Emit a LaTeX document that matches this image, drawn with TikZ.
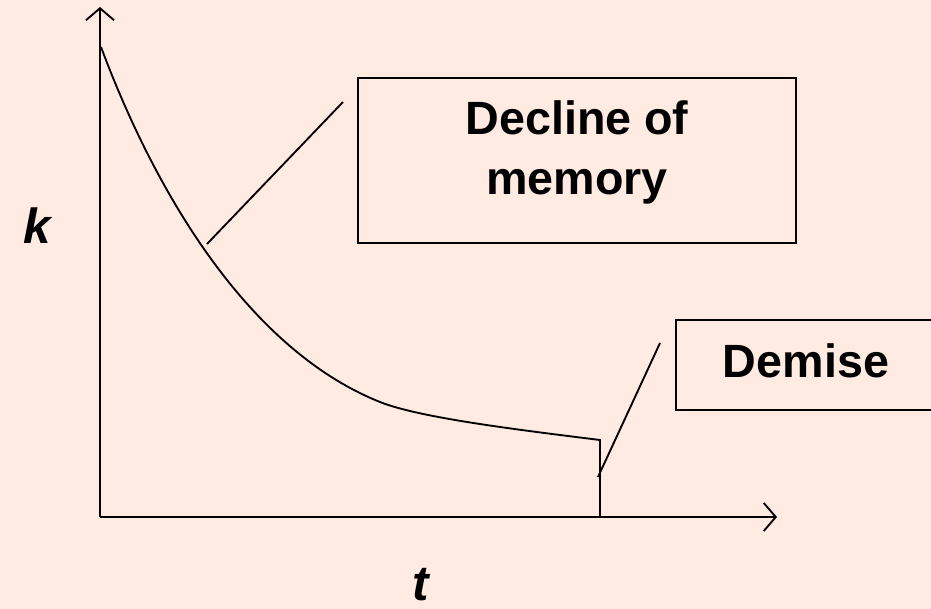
\documentclass[tikz,border=0pt]{standalone}
\usepackage{fontspec}
\setmainfont{Liberation Sans}
\usetikzlibrary{arrows.meta}
\definecolor{peach}{RGB}{255,235,225}
\tikzset{
  box/.style={draw, align=center, font=\bfseries\fontsize{35}{45}\selectfont},
  axislabel/.style={inner sep=0pt, font=\bfseries\itshape\fontsize{37}{44}\selectfont}
}

\begin{document}
\begin{tikzpicture}[x=0.75pt,y=-0.75pt,line width=1.4pt,>={Straight Barb[length=9pt,width=21pt]}]
\fill[peach] (0,0) rectangle (931,609);
\useasboundingbox (0,0) rectangle (931,609);

% axes
\coordinate (origin) at (100,517);
\coordinate (ytop) at (100,7);
\coordinate (xend) at (777,517);
\draw[->] (origin) -- (ytop);
\draw[->] (origin) -- (xend);
\node[axislabel] (k) at (37,226) {k};
\node[axislabel] (t) at (421,585) {t};

% memory curve and the drop
\coordinate (start) at (101,47);
\coordinate (bend) at (380,402);
\coordinate (drop) at (600,440);
\coordinate (dropfoot) at (600,517);
\draw (start) .. controls (157,197) and (250,350) .. (bend)
              .. controls (420,418) and (520,430) .. (drop) -- (dropfoot);

% labels
\node[box, minimum width=328.5pt, minimum height=123.75pt, text depth=19pt] (decline) at (577,160.5) {Decline of\\memory};
\node[box, minimum width=195pt, minimum height=67.5pt, text depth=6pt] (demise) at (806,365) {Demise};

\coordinate (declinept) at (207,244);
\coordinate (declinetip) at (343,102);
\draw (declinept) -- (declinetip);
\coordinate (demisept) at (598,477);
\coordinate (demisetip) at (660,343);
\draw (demisept) -- (demisetip);

\end{tikzpicture}
\end{document}
